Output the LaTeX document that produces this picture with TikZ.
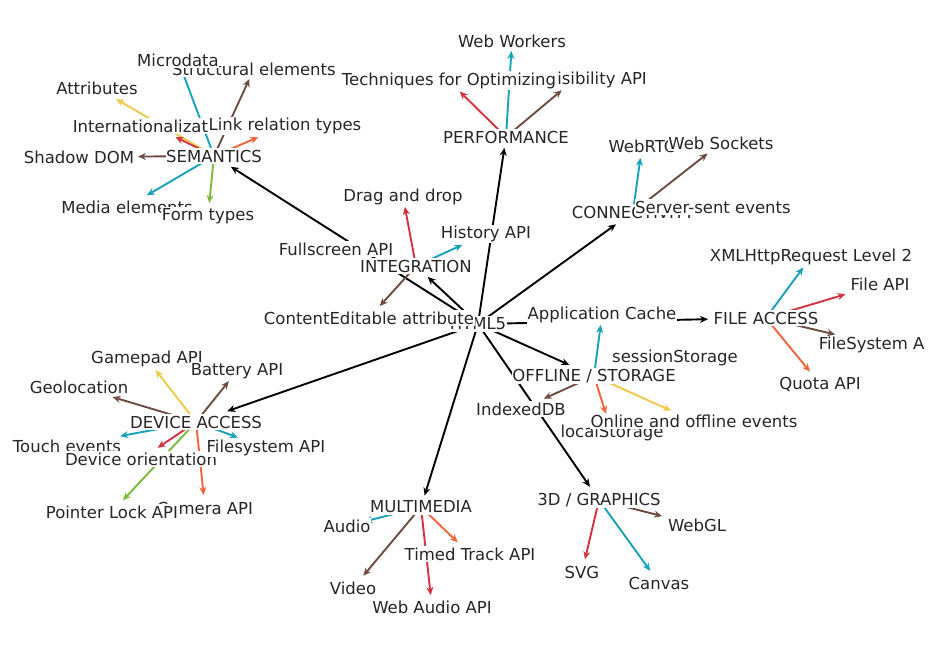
\documentclass[tikz,border=0pt]{standalone}
\usepackage{fontspec}
\setmainfont{DejaVu Sans}
\usetikzlibrary{arrows.meta}
\pgfdeclarelayer{bg}
\pgfsetlayers{bg,main}
\definecolor{cteal}{HTML}{17A2B8}
\definecolor{cred}{HTML}{D4323F}
\definecolor{cbrown}{HTML}{6D4C41}
\definecolor{corange}{HTML}{F2653C}
\definecolor{cyellow}{HTML}{EFC94A}
\definecolor{cgreen}{HTML}{7CB93E}
\tikzset{
    lbl/.style={fill=white, inner xsep=0.5pt, inner ysep=1.5pt, text=black!85, font=\fontsize{16.5}{19}\selectfont},
    con/.style={line width=1.9pt, -{Stealth[length=8pt,width=7pt]}},
  }
\begin{document}
\begin{tikzpicture}[x=1pt,y=-1pt]
\useasboundingbox (0,0) rectangle (940,650);

 %HUB + CATEGORIES
 \node[lbl] (html) at (478,324) {HTML5};
 \node[lbl] (sem) at (214,156) {SEMANTICS};
 \node[lbl] (integ) at (416,266) {INTEGRATION};
 \node[lbl] (perf) at (506,137) {PERFORMANCE};
 \node[lbl] (conn) at (633,212) {CONNECTIVITY};
 \node[lbl] (fa) at (766,318) {FILE ACCESS};
 \node[lbl] (off) at (594,376) {OFFLINE / STORAGE};
 \node[lbl] (dev) at (196,422) {DEVICE ACCESS};
 \node[lbl] (mm) at (421,507) {MULTIMEDIA};
 \node[lbl] (gfx) at (599,500) {3D / GRAPHICS};

 %semantics
 \node[lbl] (struct) at (254,69) {Structural elements};
 \node[lbl] (micro) at (178,60) {Microdata};
 \node[lbl] (attr) at (97,88) {Attributes};
 \node[lbl] (intl) at (153,126) {Internationalization};
 \node[lbl] (link) at (285,126) {Link relation types};
 \node[lbl] (shadow) at (79,157) {Shadow DOM};
 \node[lbl] (media) at (127,207) {Media elements};
 \node[lbl] (form) at (208,216) {Form types};

 %integration
 \node[lbl] (dnd) at (403,197) {Drag and drop};
 \node[lbl] (hist) at (486,234) {History API};
 \node[lbl] (full) at (336,249) {Fullscreen API};
 \node[lbl] (ce) at (369,318) {ContentEditable attribute};

 %performance
 \node[lbl] (ww) at (512,41) {Web Workers};
 \node[lbl] (vis) at (574,80) {Page Visibility API};
 \node[lbl] (tech) at (449,81) {Techniques for Optimizing};

 %connectivity
 \node[lbl] (rtc) at (642,146) {WebRTC};
 \node[lbl] (ws) at (721,143) {Web Sockets};
 \node[lbl] (sse) at (713,207) {Server-sent events};

 %file access
 \node[lbl] (xhr) at (811,257) {XMLHttpRequest Level 2};
 \node[lbl] (fapi) at (880,284) {File API};
 \begin{scope}
   \clip (0,0) rectangle (923,650);
   \node[lbl] (fs) at (879,345) {FileSystem API};
 \end{scope}
 \node[lbl] (quota) at (820,384) {Quota API};

 %offline / storage
 \node[lbl] (app) at (602,315) {Application Cache};
 \node[lbl] (sess) at (675,358) {sessionStorage};
 \node[lbl] (local) at (612,433) {localStorage};
 \node[lbl] (idb) at (521,409) {IndexedDB};
 \node[lbl] (online) at (694,421) {Online and offline events};

 %device access
 \node[lbl] (game) at (147,359) {Gamepad API};
 \node[lbl] (batt) at (237,371) {Battery API};
 \node[lbl] (geo) at (79,387) {Geolocation};
 \node[lbl] (touch) at (67,446) {Touch events};
 \node[lbl] (orient) at (141,459) {Device orientation};
 \node[lbl] (fsys) at (266,448) {Filesystem API};
 \node[lbl] (camera) at (205,508) {Camera API};
 \node[lbl] (pointer) at (112,512) {Pointer Lock API};

 %multimedia
 \node[lbl] (audio) at (347,526) {Audio};
 \node[lbl] (video) at (353,588) {Video};
 \node[lbl] (ttrack) at (470,554) {Timed Track API};
 \node[lbl] (waudio) at (432,607) {Web Audio API};

 %3d / graphics
 \node[lbl] (webgl) at (697,525) {WebGL};
 \node[lbl] (svg) at (582,572) {SVG};
 \node[lbl] (canvas) at (659,583) {Canvas};

 %EDGES (behind the labels)
 \begin{pgfonlayer}{bg}
 \draw[con,shorten >=20pt] (html.center) -- (sem.center);
 \draw[con,shorten >=16pt] (html.center) -- (integ.center);
 \draw[con,shorten >=11pt] (html.center) -- (perf.center);
 \draw[con,shorten >=21pt] (html.center) -- (conn.center);
 \draw[con,shorten >=27pt] (html.center) -- (off.center);
 \draw[con,shorten >=58pt] (html.center) -- (fa.center);
 \draw[con,shorten >=33pt] (html.center) -- (dev.center);
 \draw[con,shorten >=12pt] (html.center) -- (mm.center);
 \draw[con,shorten >=16pt] (html.center) -- (gfx.center);

 \draw[con,cteal,shorten >=8pt] (sem.center) -- (micro.center);
 \draw[con,cbrown,shorten >=11pt] (sem.center) -- (struct.center);
 \draw[con,cyellow,shorten >=22pt] (sem.center) -- (attr.center);
 \draw[con,cred,shorten >=25pt] (sem.center) -- (intl.center);
 \draw[con,corange,shorten >=29pt] (sem.center) -- (link.center);
 \draw[con,cbrown,shorten >=59pt] (sem.center) -- (shadow.center);
 \draw[con,cteal,shorten >=23pt] (sem.center) -- (media.center);
 \draw[con,cgreen,shorten >=13pt] (sem.center) -- (form.center);

 \draw[con,cred,shorten >=10pt] (integ.center) -- (dnd.center);
 \draw[con,cteal,shorten >=26pt] (integ.center) -- (hist.center);
 \draw[con,cbrown,shorten >=16pt] (integ.center) -- (ce.center);

 \draw[con,cteal,shorten >=10pt] (perf.center) -- (ww.center);
 \draw[con,cred,shorten >=15pt] (perf.center) -- (tech.center);
 \draw[con,cbrown,shorten >=16pt] (perf.center) -- (vis.center);

 \draw[con,cteal,shorten >=12pt] (conn.center) -- (rtc.center);
 \draw[con,cbrown,shorten >=17pt] (conn.center) -- (ws.center);

 \draw[con,cteal,shorten >=13pt] (fa.center) -- (xhr.center);
 \draw[con,cred,shorten >=36pt] (fa.center) -- (fapi.center);
 \draw[con,cbrown,shorten >=45pt] (fa.center) -- (fs.center);
 \draw[con,corange,shorten >=16pt] (fa.center) -- (quota.center);

 \draw[con,cteal,shorten >=10pt] (off.center) -- (app.center);
 \draw[con,cbrown,shorten >=25pt] (off.center) -- (idb.center);
 \draw[con,corange,shorten >=20pt] (off.center) -- (local.center);
 \draw[con,cyellow,shorten >=25pt] (off.center) -- (online.center);

 \draw[con,cyellow,shorten >=14pt] (dev.center) -- (game.center);
 \draw[con,cbrown,shorten >=13pt] (dev.center) -- (batt.center);
 \draw[con,cbrown,shorten >=35pt] (dev.center) -- (geo.center);
 \draw[con,cteal,shorten >=54pt] (dev.center) -- (touch.center);
 \draw[con,cred,shorten >=20pt] (dev.center) -- (orient.center);
 \draw[con,cgreen,shorten >=16pt] (dev.center) -- (pointer.center);
 \draw[con,corange,shorten >=13pt] (dev.center) -- (camera.center);
 \draw[con,cteal,shorten >=30pt] (dev.center) -- (fsys.center);

 \draw[con,cteal,shorten >=18pt] (mm.center) -- (audio.center);
 \draw[con,cbrown,shorten >=16pt] (mm.center) -- (video.center);
 \draw[con,corange,shorten >=17pt] (mm.center) -- (ttrack.center);
 \draw[con,cred,shorten >=12pt] (mm.center) -- (waudio.center);

 \draw[con,cbrown,shorten >=36pt] (gfx.center) -- (webgl.center);
 \draw[con,cred,shorten >=13pt] (gfx.center) -- (svg.center);
 \draw[con,cteal,shorten >=15pt] (gfx.center) -- (canvas.center);
 \end{pgfonlayer}
\end{tikzpicture}
\end{document}
